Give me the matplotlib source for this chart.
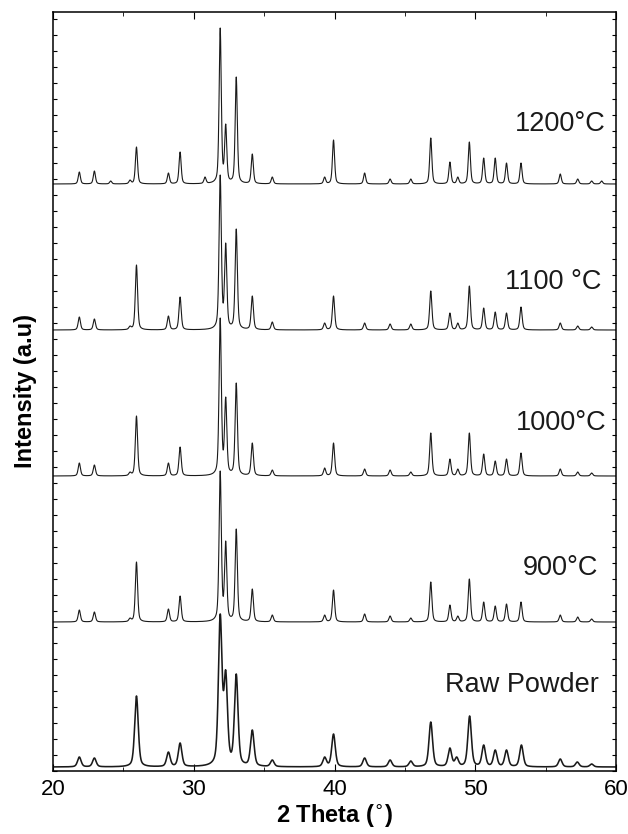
import numpy as np
import matplotlib
matplotlib.use("Agg")
import matplotlib.pyplot as plt
from matplotlib.ticker import MultipleLocator, NullFormatter

plt.rcParams['font.family'] = ['Liberation Sans', 'DejaVu Sans']

# ---- data (2theta in degrees, heights in a.u.) ----
labels = ["Raw Powder", "900\u00b0C", "1000\u00b0C", "1100 \u00b0C", "1200\u00b0C"]
offsets = [4, 149, 295, 441, 587]
fwhm = [0.30, 0.19, 0.19, 0.19, 0.18]

raw_pos = [21.87, 22.94, 25.93, 28.20, 29.03, 31.88, 32.27, 33.02, 34.16, 35.58,
           39.30, 39.93, 42.14, 43.95, 45.42, 46.84, 48.20, 48.68, 49.60, 50.60,
           51.42, 52.22, 53.28, 56.04, 57.25, 58.27]
raw_h = [10, 9, 71, 15, 24, 153, 97, 93, 37, 7,
         10, 33, 9, 7, 6, 45, 19, 10, 51, 22,
         17, 17, 22, 8, 5, 3]

s_pos = [21.87, 22.94, 25.47, 25.93, 28.20, 29.03, 31.88, 32.27, 33.02, 34.16,
         35.58, 39.30, 39.93, 42.14, 43.95, 45.42, 46.84, 48.20, 48.76, 49.58,
         50.60, 51.42, 52.22, 53.25, 56.04, 57.28, 58.27]
h900 = [12, 10, 4, 60, 13, 26, 151, 81, 93, 33,
        7, 7, 32, 8, 6, 4, 40, 17, 6, 43,
        20, 16, 18, 20, 7, 5, 3]
h1000 = [13, 11, 4, 60, 13, 29, 158, 79, 93, 33,
         6, 8, 33, 7, 6, 4, 43, 17, 7, 43,
         22, 15, 17, 23, 7, 4, 3]
h1100 = [13, 11, 4, 65, 14, 33, 155, 87, 101, 34,
         8, 7, 34, 7, 6, 6, 39, 17, 7, 44,
         22, 18, 17, 23, 7, 4, 3]

p1200 = [21.87, 22.94, 24.10, 25.47, 25.93, 28.20, 29.03, 30.80, 31.88, 32.27,
         33.02, 34.16, 35.58, 39.30, 39.93, 42.14, 43.95, 45.42, 46.84, 48.20,
         48.76, 49.58, 50.60, 51.42, 52.22, 53.25, 56.04, 57.28, 58.27, 58.98]
h1200 = [12, 13, 3, 4, 37, 11, 32, 7, 156, 60,
         107, 30, 7, 7, 44, 11, 5, 5, 46, 22,
         7, 42, 26, 26, 21, 21, 10, 5, 3, 3]

positions = [raw_pos, s_pos, s_pos, s_pos, p1200]
heights = [raw_h, h900, h1000, h1100, h1200]

x = np.linspace(20, 60, 4001)


def profile(xx, c, w, eta=0.45):
    g = np.exp(-4 * np.log(2) * ((xx - c) / w) ** 2)
    lo = 1.0 / (1.0 + 4 * ((xx - c) / w) ** 2)
    return eta * lo + (1 - eta) * g


def pattern(pos, h, w):
    pos = np.asarray(pos, float)
    h = np.asarray(h, float)
    M = np.array([[profile(p_i, p_j, w) for p_j in pos] for p_i in pos])
    amp = np.clip(np.linalg.solve(M, h), 0, None)
    y = np.zeros_like(x)
    for a, c in zip(amp, pos):
        y += a * profile(x, c, w)
    return y


fig = plt.figure(figsize=(6.28, 8.34), dpi=100)
ax = fig.add_axes([53 / 628, 1 - 771 / 834, 563 / 628, 759 / 834])

for i, (pos, h) in enumerate(zip(positions, heights)):
    y = pattern(pos, h, fwhm[i]) + offsets[i]
    ax.plot(x, y, color='#1a1a1a', lw=1.15 if i == 0 else 0.8)

label_y = [692, 575, 430, 289, 131]
label_right = [599, 598, 606, 601, 606]
for lab, py, pr in zip(labels, label_y, label_right):
    ax.text((pr - 53) / 563 * 40 + 20, 771 - py, lab, fontsize=19.5,
            ha='right', va='baseline', color='#1a1a1a')

ax.set_xlim(20, 60)
ax.set_ylim(0, 759)
ax.xaxis.set_major_locator(MultipleLocator(10))
ax.xaxis.set_minor_locator(MultipleLocator(5))
ax.yaxis.set_major_locator(MultipleLocator(16))
ax.yaxis.set_major_formatter(NullFormatter())
ax.tick_params(axis='both', which='both', direction='in', top=True, right=True)
ax.tick_params(axis='x', which='major', length=5, labelsize=16, pad=6)
ax.tick_params(axis='x', which='minor', length=3)
ax.tick_params(axis='y', which='major', length=3)
for s in ax.spines.values():
    s.set_linewidth(1.1)

ax.set_xlabel("2 Theta ($^{\\circ}$)", fontsize=17, fontweight='bold', labelpad=2)
ax.set_ylabel("Intensity (a.u)", fontsize=17, fontweight='bold', labelpad=8)

fig.savefig("out.png", dpi=100)
